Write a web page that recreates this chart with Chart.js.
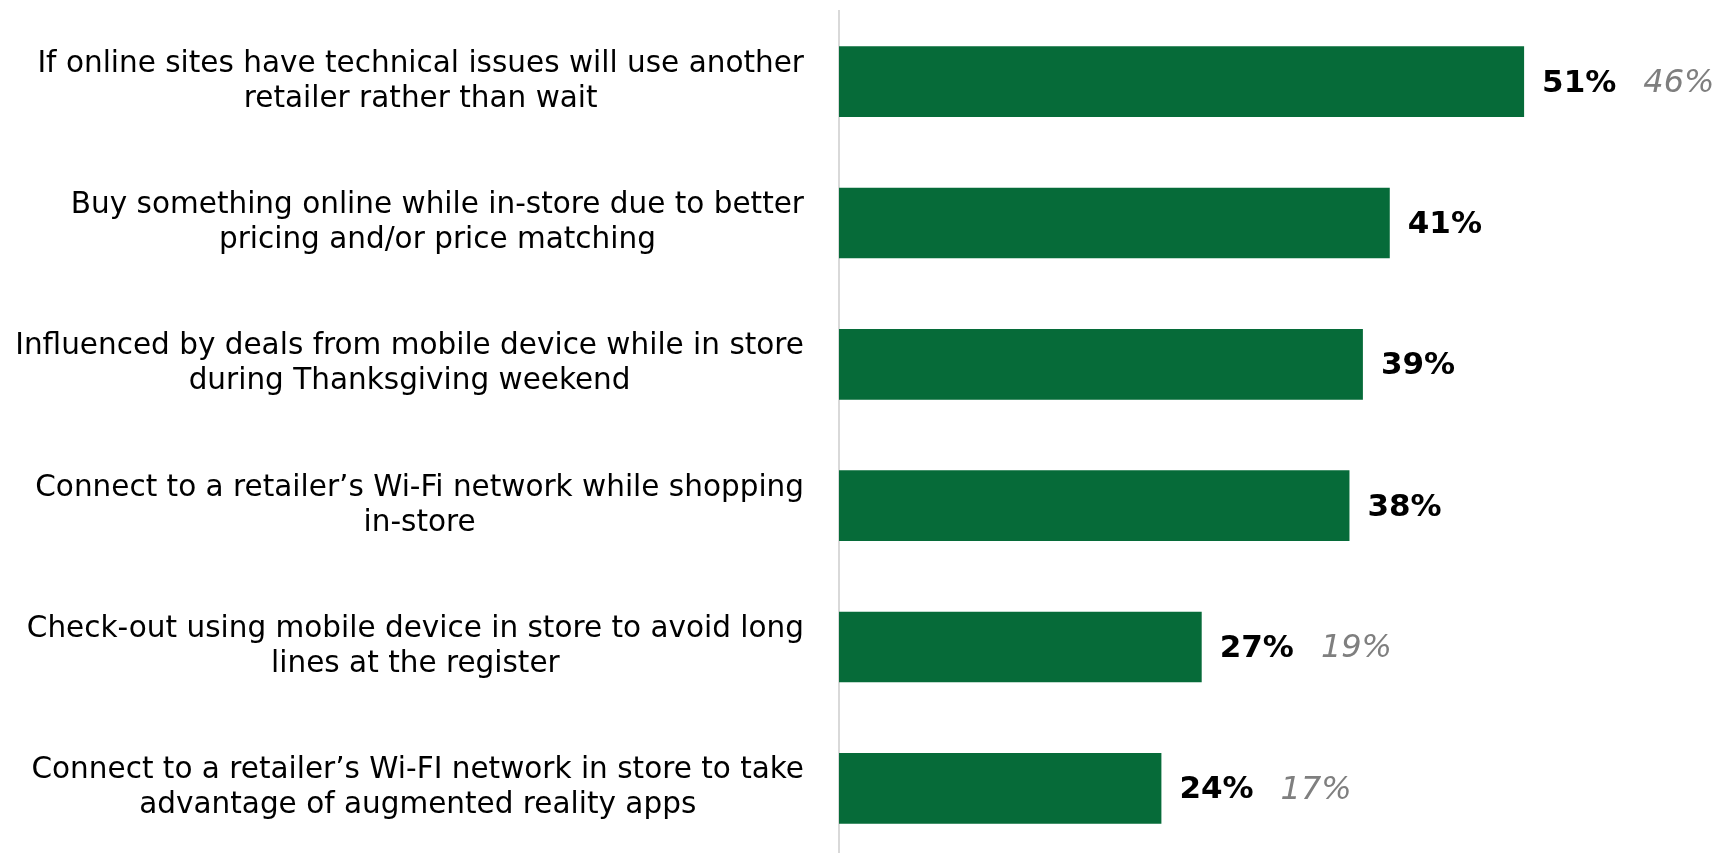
<!DOCTYPE html>
<html>
<head>
<meta charset="utf-8">
<script src="https://cdn.jsdelivr.net/npm/chart.js@4"></script>
<style>
  html, body { margin: 0; padding: 0; background: #fff; overflow: hidden; }
  #wrap { position: relative; width: 1723px; height: 870px; }
</style>
</head>
<body>
<div id="wrap"><canvas id="myChart"></canvas></div>
<script>
// Libellés des catégories (une ligne par élément)
const categories = [
    ['If online sites have technical issues will use another', 'retailer rather than wait'],
    ['Buy something online while in-store due to better', 'pricing and/or price matching'],
    ['Influenced by deals from mobile device while in store', 'during Thanksgiving weekend'],
    ['Connect to a retailer\u2019s Wi-Fi network while shopping', 'in-store'],
    ['Check-out using mobile device in store to avoid long', 'lines at the register'],
    ['Connect to a retailer\u2019s Wi-FI network in store to take', 'advantage of augmented reality apps'],
];

// Valeurs de l'année en cours (barres) et de l'année précédente (texte gris)
const currentValues = [51, 41, 39, 38, 27, 24];
const previousValues = [46, null, null, null, 19, 17];

const FONT = '"DejaVu Sans", Verdana, sans-serif';

// Plugin pour dessiner les libellés des catégories et les valeurs
const labelsPlugin = {
    id: 'labelsPlugin',
    afterDraw(chart) {
        const ctx = chart.ctx;
        const yScale = chart.scales.y;
        const meta = chart.getDatasetMeta(0);
        ctx.save();
        ctx.textBaseline = 'middle';

        // Libellés à gauche : bloc aligné à droite, lignes centrées
        ctx.font = '29.5px ' + FONT;
        ctx.fillStyle = '#000';
        ctx.textAlign = 'center';
        const lineHeight = 35;
        const rightEdge = 804;
        categories.forEach((lines, i) => {
            const yc = yScale.getPixelForValue(i);
            const widest = Math.max(...lines.map(l => ctx.measureText(l).width));
            const xc = rightEdge - widest / 2;
            lines.forEach((line, j) => {
                const y = yc + (j - (lines.length - 1) / 2) * lineHeight;
                ctx.fillText(line, xc, y);
            });
        });

        // Valeurs à droite des barres
        ctx.textAlign = 'left';
        meta.data.forEach((bar, i) => {
            const y = bar.y + 2;
            ctx.font = 'bold 31px ' + FONT;
            ctx.fillStyle = '#000';
            const txt = currentValues[i] + '%';
            ctx.fillText(txt, bar.x + 18, y);
            if (previousValues[i] !== null) {
                const w = ctx.measureText(txt).width;
                ctx.font = 'italic 32px ' + FONT;
                ctx.fillStyle = '#7f7f7f';
                ctx.fillText(previousValues[i] + '%', bar.x + 18 + w + 27, y);
            }
        });
        ctx.restore();
    }
};

const ctx = document.getElementById('myChart').getContext('2d');
const myChart = new Chart(ctx, {
    type: 'bar',
    data: {
        labels: categories,
        datasets: [{
            data: currentValues,
            backgroundColor: '#066b39',
            borderWidth: 0,
            categoryPercentage: 0.5,
            barPercentage: 1,
        }],
    },
    options: {
        indexAxis: 'y',
        responsive: true,
        maintainAspectRatio: false,
        animation: false,
        layout: {
            padding: { left: 831, right: 78, top: 11, bottom: 11 },
        },
        scales: {
            x: {
                display: false,
                min: 0,
                max: 60,
            },
            y: {
                ticks: { display: false },
                grid: { display: false },
                border: { display: true, color: '#d9d9d9', width: 2 },
            },
        },
        plugins: {
            legend: { display: false },
            tooltip: { enabled: false },
        },
    },
    plugins: [labelsPlugin],
});
</script>
</body>
</html>
